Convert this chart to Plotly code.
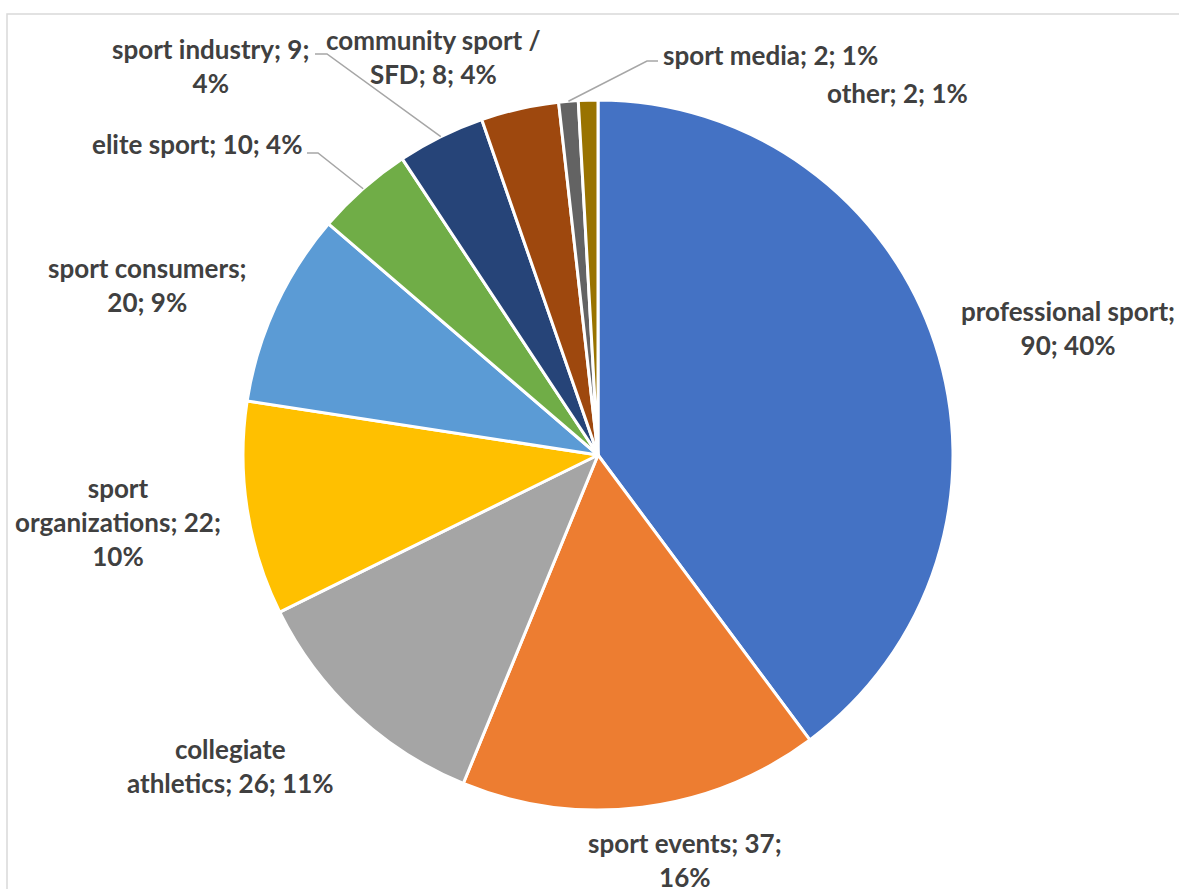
import math
import textwrap
import plotly.graph_objects as go

# ---------------- data ----------------
categories = ["professional sport", "sport events", "collegiate athletics",
              "sport organizations", "sport consumers", "elite sport",
              "sport industry", "community sport / SFD", "sport media", "other"]
counts = [90, 37, 26, 22, 20, 10, 9, 8, 2, 2]
percents = [40, 16, 11, 10, 9, 4, 4, 4, 1, 1]

# ---------------- style / layout ----------------
W, H = 1179, 889
colors = ["#4472C4", "#ED7D31", "#A5A5A5", "#FFC000", "#5B9BD5",
          "#70AD47", "#264478", "#9E480E", "#636363", "#997300"]
CX, CY, R = 598, 455, 355          # pie centre / radius in pixels
FONT = "Lato"
FSIZE = 26
TXT = "#404040"
wrap_width = [19, 17, 18, 18, 16, 20, 18, 17, 20, 20]
label_pos = [(1068, 328), (685, 860), (230, 766), (118, 522), (147, 285),
             (197, 144), (210, 66), (433, 57), (770, 55), (897, 93)]
# leader lines: (index, label-side point, horizontal stub length)
leaders = [(5, (307, 153), 11), (6, (315, 54), 12), (8, (658, 61), -11)]


def px(x):
    return x / W


def py(y):
    return 1 - y / H


fig = go.Figure(go.Pie(
    labels=categories, values=counts, sort=False, direction="clockwise",
    rotation=0, textinfo="none", hoverinfo="label+value+percent",
    marker=dict(colors=colors, line=dict(color="white", width=3)),
    domain=dict(x=[px(CX - R), px(CX + R)], y=[py(CY + R), py(CY - R)]),
    showlegend=False,
))

annotations = []
for i, (cat, v, p) in enumerate(zip(categories, counts, percents)):
    s = f"{cat}; {v}; {p}%"
    txt = "<br>".join(textwrap.wrap(s, wrap_width[i]))
    x, y = label_pos[i]
    annotations.append(dict(x=px(x), y=py(y), xref="paper", yref="paper",
                            text=txt, showarrow=False, xanchor="center",
                            yanchor="middle", align="center",
                            font=dict(family=FONT, size=FSIZE, color=TXT,
                                      weight="bold")))

total = sum(counts)
cum = [sum(counts[:i]) for i in range(len(counts))]
shapes = []
for idx, (lx, ly), stub in leaders:
    mid = (cum[idx] + counts[idx] / 2) / total * 2 * math.pi
    ex, ey = CX + R * math.sin(mid), CY - R * math.cos(mid)
    path = (f"M {px(lx)} {py(ly)} L {px(lx + stub)} {py(ly)} "
            f"L {px(ex)} {py(ey)}")
    shapes.append(dict(type="path", xref="paper", yref="paper", path=path,
                       line=dict(color="#A6A6A6", width=1.5)))

# chart-area border
shapes.append(dict(type="rect", xref="paper", yref="paper",
                   x0=px(7), x1=1.02, y0=-0.02, y1=py(14),
                   line=dict(color="#D9D9D9", width=1.5)))

fig.update_layout(width=W, height=H, margin=dict(l=0, r=0, t=0, b=0),
                  paper_bgcolor="white", plot_bgcolor="white",
                  annotations=annotations, shapes=shapes)

fig.write_html(
    "out.html",
    config={"displayModeBar": False},
    post_script="document.body.style.margin='0';"
                "document.body.style.overflow='hidden';",
)
